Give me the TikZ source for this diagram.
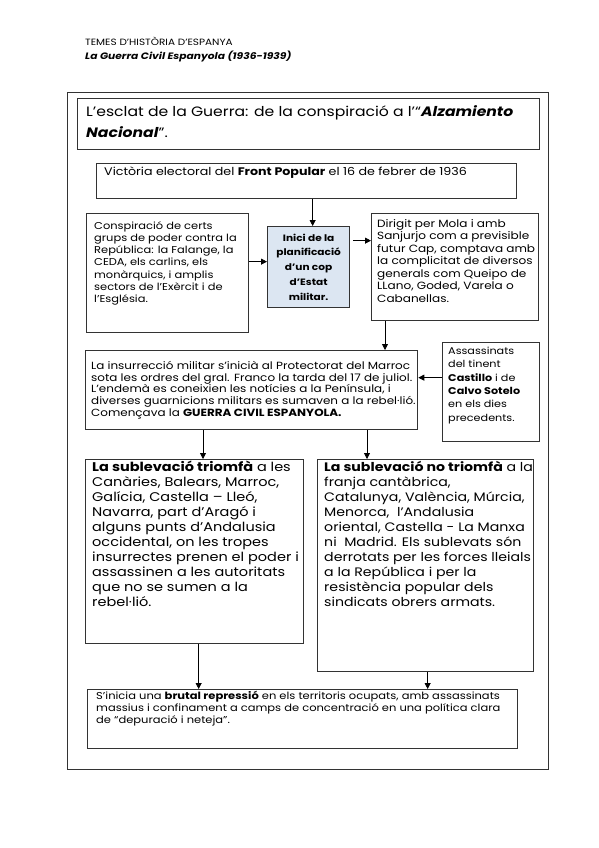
\documentclass[tikz,border=0pt]{standalone}
\usepackage{fontspec}
\setmainfont{Poppins}[FakeStretch=1.15]
\usetikzlibrary{arrows.meta, calc, positioning}
\definecolor{rand}{HTML}{333333}
\definecolor{blauet}{HTML}{DCE6F2}

\begin{document}
\begin{tikzpicture}[x=1pt, y=-1pt,
    kasten/.style={draw=rand, line width=1.3pt, anchor=north west, inner sep=0pt},
    txt/.style={anchor=north west, align=left, inner sep=0pt},
    pfeil/.style={-{Triangle[length=6pt,width=6pt]}, line width=0.8pt}]
  \useasboundingbox[fill=white] (0,0) rectangle (599,848);

  % --- Kopfzeile ---
  \node[txt, font=\fontsize{9.1}{14}\selectfont] (kopf) at (85,37)
    {TEMES D’HISTÒRIA D’ESPANYA\\ {\fontsize{9.3}{14}\selectfont\textbf{\textit{La Guerra Civil Espanyola (1936-1939)}}}};

  % --- Rahmen und Titel ---
  \node[kasten, minimum width=481, minimum height=677] (rahmen) at (67,92) {};
  \node[kasten, minimum width=462, minimum height=51] (titel) at (77,98) {};
  \node[txt, font=\fontsize{13.6}{21}\selectfont] (t-titel) at (86,105)
    {L’esclat de la Guerra: de la conspiració a l’“\textbf{\textit{Alzamiento}}\\ \textbf{\textit{Nacional}}”.};

  % --- Kästen ---
  \node[kasten, minimum width=420, minimum height=35] (victoria) at (96,163) {};
  \node[kasten, minimum width=162, minimum height=119] (consp) at (86,213) {};
  \node[kasten, fill=blauet, minimum width=82, minimum height=81] (inici) at (267,226) {};
  \node[kasten, minimum width=167, minimum height=107] (dirigit) at (371,213) {};
  \node[kasten, minimum width=332, minimum height=79] (insur) at (85,350) {};
  \node[kasten, minimum width=97, minimum height=99] (assass) at (442,342) {};
  \node[kasten, minimum width=218, minimum height=184] (triomfa) at (85,459) {};
  \node[kasten, minimum width=216, minimum height=212] (notriomfa) at (317,459) {};
  \node[kasten, minimum width=430, minimum height=59] (repress) at (87,689) {};

  % --- Texte ---
  \node[txt, font=\fontsize{11}{14}\selectfont] (t-victoria) at (104,167)
    {Victòria electoral del \textbf{Front Popular} el 16 de febrer de 1936};
  \node[txt, font=\fontsize{9.95}{12.3}\selectfont] (t-consp) at (94,221)
    {Conspiració de certs\\ grups de poder contra la\\ República: la Falange, la\\
     CEDA, els carlins, els\\ monàrquics, i amplis\\ sectors de l’Exèrcit i de\\ l’Església.};
  \node[align=center, inner sep=0pt, font=\bfseries\fontsize{9.2}{14.8}\selectfont] (t-inici) at (inici.center)
    {Inici de la\\ planificació\\ d’un cop\\ d’Estat\\ militar.};
  \node[txt, font=\fontsize{10.5}{12.5}\selectfont] (t-dirigit) at (377,219)
    {Dirigit per Mola i amb\\ Sanjurjo com a previsible\\ futur Cap, comptava amb\\
     la complicitat de diversos\\ generals com Queipo de\\ LLano, Goded, Varela o\\ Cabanellas.};
  \node[txt, font=\fontsize{10.4}{11.7}\selectfont] (t-insur) at (91,361)
    {La insurrecció militar s’inicià al Protectorat del Marroc\\
     sota les ordres del gral. Franco la tarda del 17 de juliol.\\
     L’endemà es coneixien les notícies a la Península, i\\
     diverses guarnicions militars es sumaven a la rebel·lió.\\
     Començava la \textbf{GUERRA CIVIL ESPANYOLA.}};
  \node[txt, font=\fontsize{9.75}{13.3}\selectfont] (t-assass) at (448,347)
    {Assassinats\\ del tinent\\ \textbf{Castillo} i de\\ \textbf{Calvo Sotelo}\\ en els dies\\ precedents.};
  \node[txt, font=\fontsize{12.6}{15}\selectfont] (t-triomfa) at (92,461)
    {\textbf{La sublevació triomfà} a les\\ Canàries, Balears, Marroc,\\ Galícia, Castella – Lleó,\\
     Navarra, part d’Aragó i\\ alguns punts d’Andalusia\\ occidental, on les tropes\\
     insurrectes prenen el poder i\\ assassinen a les autoritats\\ que no se sumen a la\\ rebel·lió.};
  \node[txt, font=\fontsize{12.3}{15}\selectfont] (t-notriomfa) at (324,461)
    {\textbf{La sublevació no triomfà} a la\\ franja cantàbrica,\\ Catalunya, València, Múrcia,\\
     Menorca,~ l’Andalusia\\ oriental, Castella - La Manxa\\ ni~ Madrid. Els sublevats són\\
     derrotats per les forces lleials\\ a la República i per la\\ resistència popular dels\\
     sindicats obrers armats.};
  \node[txt, font=\fontsize{10}{12}\selectfont] (t-repress) at (96,691)
    {S’inicia una \textbf{brutal repressió} en els territoris ocupats, amb assassinats\\
     massius i confinament a camps de concentració en una política clara\\
     de “depuració i neteja”.};

  % --- Pfeile ---
  \coordinate (p1) at ($(inici.north)+(4,0)$);
  \draw[pfeil] (p1 |- victoria.south) -- (p1);
  \coordinate (p2) at ($(inici.west)+(0,-5.5)$);
  \draw[pfeil] (p2 -| consp.east) -- (p2);
  \coordinate (p3) at ($(inici.east)+(3,-26.5)$);
  \draw[pfeil] (p3) -- (p3 -| dirigit.west);
  \coordinate (p4) at ($(dirigit.south west)+(14,0)$);
  \draw[pfeil] (p4) -- (p4 |- insur.north);
  \coordinate (p5) at ($(assass.west)+(0,-14.5)$);
  \draw[pfeil] (p5) -- (p5 -| insur.east);
  \coordinate (p6) at ($(insur.south west)+(118,0)$);
  \draw[pfeil] (p6) -- (p6 |- triomfa.north);
  \coordinate (p7) at ($(insur.south west)+(282,0)$);
  \draw[pfeil] (p7) -- (p7 |- notriomfa.north);
  \coordinate (p8) at ($(triomfa.south)+(4,0)$);
  \draw[pfeil] (p8) -- (p8 |- repress.north);
  \coordinate (p9) at ($(notriomfa.south)+(2,0)$);
  \draw[pfeil] (p9) -- (p9 |- repress.north);
\end{tikzpicture}
\end{document}
